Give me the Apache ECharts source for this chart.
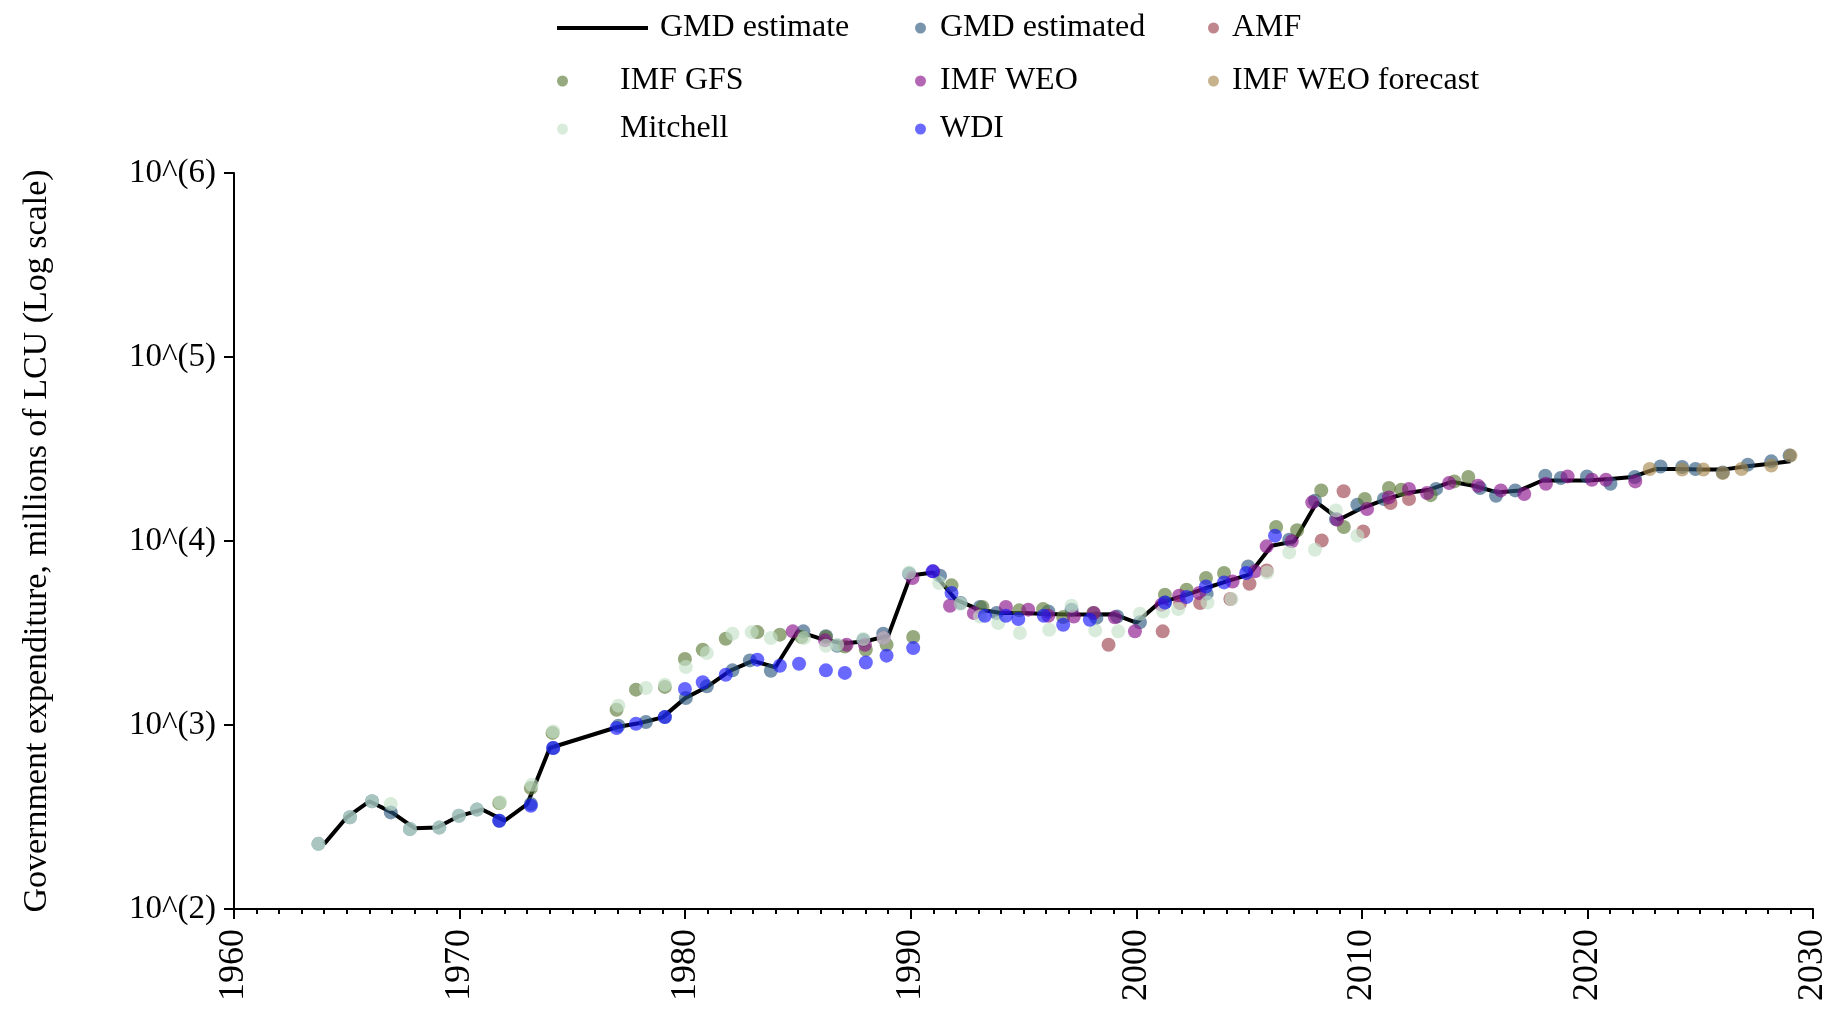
<!DOCTYPE html>
<html>
<head>
<meta charset="utf-8">
<script src="https://cdn.jsdelivr.net/npm/echarts@6/dist/echarts.min.js"></script>
<style>
html,body{margin:0;padding:0;background:#fff;}
#chart{width:1837px;height:1013px;}
</style>
</head>
<body>
<div id="chart"></div>
<script>
// ---------------- data ----------------
const xTicks = [1960, 1970, 1980, 1990, 2000, 2010, 2020, 2030];
const yTickLabels = ['10^(2)', '10^(3)', '10^(4)', '10^(5)', '10^(6)'];

const gmdYears = [1964,1965,1966,1967,1968,1969,1970,1971,1972,1973,1974,1977,1978,1979,1980,1981,1982,1983,1984,1985,1986,1987,1988,1989,1990,1991,1992,1993,1994,1995,1996,1997,1998,1999,2000,2001,2002,2003,2004,2005,2006,2007,2008,2009,2010,2011,2012,2013,2014,2015,2016,2017,2018,2019,2020,2021,2022,2023,2024,2025,2026,2027,2028,2029];
const gmdValues = [226,315,385,335,275,277,321,347,302,372,750,975,1025,1100,1400,1620,1975,2230,2060,3230,2950,2770,2850,3050,6500,6750,4800,4250,4060,4060,4010,3990,3990,4000,3600,4600,5000,5500,6030,6560,9420,9950,16200,13100,15100,16750,18230,19000,21000,19900,18370,18840,21330,21330,21330,21730,22280,24600,24600,24430,24430,25410,26180,27100];

const gmdEstimated = [[1963.74,226],[1965.14,315],[1966.12,385],[1966.95,335],[1967.8,272],[1969.1,277],[1969.97,321],[1970.77,347],[1971.76,302],[1973.16,372],[1974.15,750],[1977.04,991],[1978.26,1038],[1979.1,1104],[1980.03,1403],[1980.96,1622],[1982.1,1982],[1982.87,2244],[1983.8,1972],[1985.24,3228],[1986.24,3034],[1986.74,2698],[1987.9,2895],[1988.78,3133],[1989.93,6637],[1991.3,6471],[1992.21,4603],[1993.07,4375],[1993.81,4064],[1996.1,4140],[1997.13,4236],[1998.23,3819],[1999.15,3890],[2000.16,3614],[2001.27,4634],[2003.12,5176],[2004.96,7278],[2006.78,10160],[2007.92,16560],[2008.85,13180],[2009.8,15740],[2010.98,16900],[2013.29,19190],[2015.24,19410],[2015.95,17620],[2016.8,18840],[2018.13,22650],[2018.82,21980],[2019.98,22440],[2021.02,20460],[2022.1,22280],[2023.24,25410],[2024.2,25230],[2024.79,24600],[2026.0,23600],[2027.11,26000],[2028.15,27100],[2028.96,29110]];

const amf = [[1998.77,2729],[2001.17,3228],[2001.94,4603],[2002.83,4603],[2004.17,4842],[2005.02,5861],[2005.78,6918],[2008.22,10070],[2009.19,18620],[2010.06,11270],[2011.27,16100],[2012.09,16900]];

const imfGfs = [[1971.76,377],[1973.16,455],[1974.12,906],[1976.96,1211],[1977.82,1556],[1979.1,1611],[1979.99,2286],[1980.78,2564],[1981.8,2944],[1983.2,3199],[1984.2,3098],[1985.16,3006],[1986.24,3006],[1987.08,2673],[1988.01,2564],[1988.93,2729],[1990.11,3006],[1991.81,5741],[1993.18,4375],[1994.81,4198],[1995.87,4266],[1996.76,3864],[1998.09,4064],[2001.27,5105],[2002.23,5433],[2003.09,6295],[2003.89,6699],[2006.2,11910],[2007.13,11430],[2008.2,18840],[2009.2,11910],[2010.13,16900],[2011.2,19410],[2011.75,19010],[2013.05,17750],[2014.1,21080],[2014.72,22280]];

const imfWeo = [[1984.77,3228],[1986.2,2884],[1987.16,2729],[1987.97,2729],[1988.8,2972],[1990.08,6295],[1991.0,6839],[1991.74,4446],[1992.8,4064],[1994.22,4375],[1995.21,4236],[1996.1,3926],[1997.23,3890],[1998.12,4064],[1999.05,3846],[1999.94,3228],[2001.12,4508],[2001.9,5047],[2002.79,5212],[2004.27,6026],[2005.26,6839],[2005.78,9351],[2006.89,9954],[2007.8,16220],[2008.9,13060],[2010.23,14930],[2011.2,17260],[2012.09,19190],[2012.89,18230],[2013.87,20650],[2015.15,19950],[2016.16,18840],[2017.2,17990],[2018.16,20460],[2019.12,22440],[2020.2,21530],[2020.82,21530],[2022.12,21080]];

const imfWeoForecast = [[2022.76,24600],[2024.2,24430],[2025.14,24430],[2026.0,23440],[2026.83,24600],[2028.15,25700],[2029.0,29110]];

const mitchell = [[1963.74,226],[1965.14,315],[1966.12,385],[1966.95,372],[1967.8,272],[1969.1,277],[1969.97,321],[1970.77,347],[1971.8,380],[1973.2,473],[1974.15,922],[1977.04,1274],[1978.26,1589],[1979.1,1656],[1980.03,2065],[1980.96,2460],[1982.1,3133],[1982.95,3199],[1983.8,2972],[1985.27,2972],[1986.24,2698],[1986.74,2729],[1987.9,2933],[1988.8,2972],[1989.93,6745],[1991.26,5916],[1992.21,4560],[1993.07,3890],[1993.88,3581],[1994.84,3162],[1996.14,3296],[1997.13,4446],[1998.18,3266],[1999.2,3228],[2000.16,4027],[2001.19,4140],[2001.86,4266],[2003.16,4634],[2004.22,4842],[2005.8,6745],[2006.78,8670],[2007.92,8970],[2008.85,14660],[2009.8,10690]];

const wdi = [[1971.76,302],[1973.16,364],[1974.15,750],[1976.96,964],[1977.82,1016],[1979.1,1104],[1979.99,1570],[1980.78,1706],[1981.8,1875],[1983.2,2265],[1984.2,2099],[1985.05,2153],[1986.24,1982],[1987.08,1919],[1988.01,2188],[1988.93,2382],[1990.11,2618],[1990.97,6839],[1991.81,5212],[1993.29,3926],[1994.22,3926],[1994.77,3767],[1995.9,3926],[1996.76,3508],[1997.94,3733],[2001.27,4634],[2002.23,4966],[2003.09,5662],[2003.89,5957],[2004.87,6699],[2006.15,10690]];

// ---------------- chart ----------------
const FONT = '"Liberation Serif", "Times New Roman", serif';
const chart = echarts.init(document.getElementById('chart'), null, {renderer: 'canvas'});

const dotSeries = [
  {name: 'GMD estimated', data: gmdEstimated, color: 'rgba(45,89,128,0.8)'},
  {name: 'AMF', data: amf, color: 'rgba(156,66,76,0.8)'},
  {name: 'IMF GFS', data: imfGfs, color: 'rgba(90,121,55,0.8)'},
  {name: 'IMF WEO', data: imfWeo, color: 'rgba(136,16,136,0.8)'},
  {name: 'IMF WEO forecast', data: imfWeoForecast, color: 'rgba(166,136,76,0.8)'},
  {name: 'Mitchell', data: mitchell, color: 'rgba(196,226,201,0.8)'},
  {name: 'WDI', data: wdi, color: 'rgba(21,21,255,0.8)'}
];

const series = [{
  name: 'GMD estimate',
  type: 'line',
  data: gmdYears.map((y, i) => [y, gmdValues[i]]),
  symbol: 'none',
  lineStyle: {color: '#000', width: 4},
  itemStyle: {color: '#000'},
  z: 2,
  animation: false
}].concat(dotSeries.map(s => ({
  name: s.name,
  type: 'scatter',
  data: s.data,
  symbol: 'circle',
  symbolSize: 14,
  itemStyle: {color: s.color},
  z: 3,
  animation: false
})));

function legendItem(name, left, centerY, itemWidth, padLeft, icon, itemHeight) {
  return {
    data: [icon ? {name: name, icon: icon} : name],
    left: left,
    top: centerY - 18,
    orient: 'horizontal',
    padding: 0,
    itemWidth: itemWidth,
    itemHeight: itemHeight || 11,
    selectedMode: false,
    textStyle: {fontFamily: FONT, fontSize: 32, color: '#000', lineHeight: 36, padding: [0, 0, 0, padLeft]}
  };
}

const option = {
  backgroundColor: '#fff',
  animation: false,
  textStyle: {fontFamily: FONT},
  legend: [
    legendItem('GMD estimate', 557, 28, 91, 7, 'rect', 4),
    legendItem('IMF GFS', 557, 81, 91, 7),
    legendItem('Mitchell', 557, 129, 91, 7),
    legendItem('GMD estimated', 915, 28, 11, 9),
    legendItem('IMF WEO', 915, 81, 11, 9),
    legendItem('WDI', 915, 129, 11, 9),
    legendItem('AMF', 1208, 28, 11, 8),
    legendItem('IMF WEO forecast', 1208, 81, 11, 8)
  ],
  grid: {left: 234, right: 24, top: 173, bottom: 104, containLabel: false},
  xAxis: {
    type: 'value',
    min: xTicks[0],
    max: xTicks[xTicks.length - 1],
    interval: 10,
    axisLine: {show: true, lineStyle: {color: '#000', width: 2}},
    axisTick: {show: true, length: 10, lineStyle: {color: '#000', width: 2}},
    minorTick: {show: true, splitNumber: 10, length: 5, lineStyle: {color: '#000', width: 2}},
    splitLine: {show: false},
    axisLabel: {
      rotate: 90, margin: 20, fontFamily: FONT, fontSize: 36, color: '#000',
      formatter: v => String(v)
    }
  },
  yAxis: {
    type: 'log',
    logBase: 10,
    min: 100,
    max: 1000000,
    name: 'Government expenditure, millions of LCU (Log scale)',
    nameLocation: 'middle',
    nameGap: 180,
    nameTextStyle: {fontFamily: FONT, fontSize: 34, color: '#000'},
    axisLine: {show: true, lineStyle: {color: '#000', width: 2}},
    axisTick: {show: true, length: 10, lineStyle: {color: '#000', width: 2}},
    minorTick: {show: false},
    splitLine: {show: false},
    axisLabel: {
      margin: 18, fontFamily: FONT, fontSize: 33, color: '#000',
      formatter: v => {
        const e = Math.round(Math.log10(v));
        return yTickLabels[e - 2] !== undefined ? yTickLabels[e - 2] : '';
      }
    }
  },
  series: series
};
chart.setOption(option);
</script>
</body>
</html>
